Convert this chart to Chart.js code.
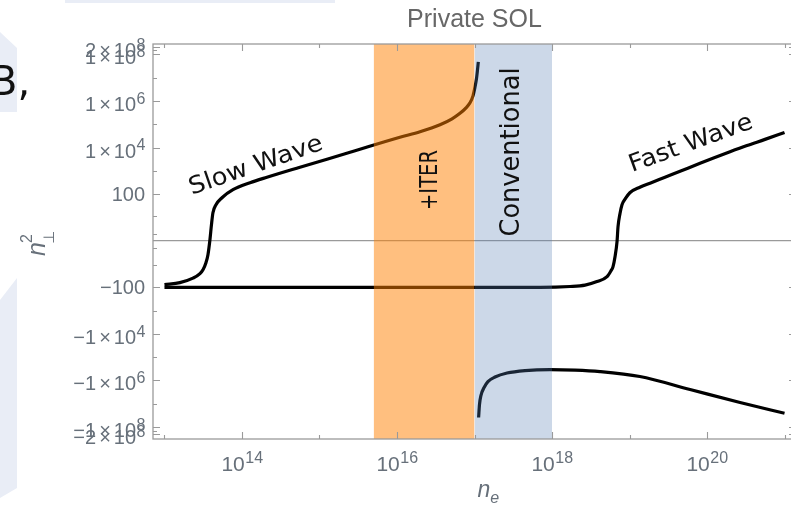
<!DOCTYPE html>
<html>
<head>
<meta charset="utf-8">
<script src="https://cdn.jsdelivr.net/npm/chart.js@4.4.1/dist/chart.umd.min.js"></script>
<style>
 html, body {margin:0; padding:0; background:#ffffff; overflow:hidden;}
 #wrap      {position:relative; width:791px; height:516px; overflow:hidden;}
 canvas     {position:absolute; left:0; top:0;}
</style>
</head>
<body>
<div id="wrap"><canvas id="chart" width="806" height="516"></canvas></div>
<script>

// -----------------------------------------------------------------------------------------------//
//                                          D A T A                                               //
// -----------------------------------------------------------------------------------------------//

// slow wave branch (n_e, n_perp^2)
var slow_ne = [1.0e13, 1.58e13, 2.33e13, 2.87e13, 3.14e13, 3.43e13, 3.64e13, 3.86e13, 4.04e13, 4.22e13,
               4.62e13, 5.52e13, 7.66e13, 1.27e14, 2.10e14, 5.60e14, 2.48e15, 1.09e16, 1.98e16, 3.59e16,
               5.13e16, 6.50e16, 7.77e16, 8.75e16, 9.57e16, 1.01e17, 1.06e17, 1.09e17, 1.12e17];
var slow_n2 = [-76, -62.5, -39.7, -25, -16.6, -7.8, -3.0, 0.1, 3.9, 14.9,
               34, 69, 154, 307, 530, 1430, 6280, 27700, 47600, 95300,
               172000, 296000, 511000, 838000, 1.67e6, 3.69e6, 8.97e6, 1.98e7, 4.8e7];

// fast wave branch
var fast_ne = [1.0e13, 1.0e15, 1.0e17, 7.05e17, 1.71e18, 2.67e18, 3.80e18, 5.13e18, 5.77e18, 6.13e18,
               6.50e18, 6.90e18, 7.11e18, 7.53e18, 8.00e18, 9.02e18, 1.01e19, 1.36e19, 1.84e19, 2.87e19,
               4.49e19, 8.13e19, 1.19e20, 1.98e20, 3.28e20, 5.60e20, 1.0e21];
var fast_n2 = [-100, -100, -100, -100, -92, -80, -56, -34, -18.4, -12,
               -3.9, -0.1, 3.0, 13.4, 34, 69, 114, 197, 293, 530,
               960, 2120, 3470, 6600, 12200, 22500, 44700];

// negative branch past the cutoff
var conv_ne = [1.13e17, 1.16e17, 1.21e17, 1.33e17, 1.49e17, 1.84e17, 2.63e17, 4.48e17, 9.42e17, 1.98e18,
               4.16e18, 1.36e19, 6.04e19, 2.67e20, 1.0e21];
var conv_n2 = [-3.95e7, -1.09e7, -4.49e6, -2.04e6, -1.13e6, -7.21e5, -4.86e5, -3.8e5, -3.44e5, -3.61e5,
               -4.19e5, -6.87e5, -2.48e6, -8.97e6, -2.6e7];

// density bands
var band_iter = [5e15, 1e17];
var band_conv = [1e17, 1e18];

// ticks
var x_ticks        = [1e14, 1e16, 1e18, 1e20];
var x_labels       = ["10^14", "10^16", "10^18", "10^20"];
var x_ticks_minor  = [1e13, 1e15, 1e17, 1e19, 1e21];

var y_ticks        = [2e8, 1e8, 1e6, 1e4, 100, -100, -1e4, -1e6, -1e8, -2e8];
var y_labels       = ["2×10^8", "1×10^8", "1×10^6", "1×10^4", "100", "−100", "−1×10^4", "−1×10^6", "−1×10^8", "−2×10^8"];
var y_ticks_minor  = [1.5e8, 1e7, 1e5, 1000, 10, 1, -1, -10, -1000, -1e5, -1e7, -1.5e8];

var x_range = [Math.pow(10, 12.852), Math.pow(10, 21.148)];
var y_range = [-8.52, 8.45];



// -----------------------------------------------------------------------------------------------//
//                                        H E L P E R S                                           //
// -----------------------------------------------------------------------------------------------//

function Symlog(v)
{
 return Math.sign(v) * Math.log10(1 + Math.abs(v));
}


function Points(xs, ys)
{
 var points = [];
 for(var i = 0; i < xs.length; i++) points.push({x: xs[i], y: Symlog(ys[i])});
 return points;
}


function Band(range)
{
 return [{x: range[0], y: y_range[1]}, {x: range[1], y: y_range[1]}];
}


var TICK_FONT = "'Liberation Sans', Arial, sans-serif";
var TIMES_GAP = 3;

function Draw_Power(ctx, text, x, y, align, size)
{
 var parts = text.split("^");
 var base  = parts[0];
 var sup   = parts[1] || "";
 var ssize = Math.round(size * 0.78);

 // base pieces, with a little room round the times sign
 ctx.font   = size + "px " + TICK_FONT;
 var pieces = base.split("×");
 var widths = [];
 var wb     = 0;
 for(var i = 0; i < pieces.length; i++)
 {
  var w = ctx.measureText(pieces[i]).width;
  widths.push(w);
  wb += w;
 }
 var wt = ctx.measureText("×").width;
 wb    += (pieces.length - 1) * (wt + 2 * TIMES_GAP);

 ctx.font = ssize + "px " + TICK_FONT;
 var ws   = sup ? ctx.measureText(sup).width : 0;

 var total = wb + ws;
 var left  = x;
 if(align == "right")  left = x - total;
 if(align == "center") left = x - total / 2;

 ctx.textAlign    = "left";
 ctx.textBaseline = "alphabetic";
 ctx.font = size + "px " + TICK_FONT;
 var px   = left;
 for(var i = 0; i < pieces.length; i++)
 {
  ctx.fillText(pieces[i], px, y);
  px += widths[i];
  if(i < pieces.length - 1)
  {
   ctx.fillText("×", px + TIMES_GAP, y);
   px += wt + 2 * TIMES_GAP;
  }
 }
 if(sup)
 {
  ctx.font = ssize + "px " + TICK_FONT;
  ctx.fillText(sup, px + 0.5, y - size * 0.36);
 }
}


function Draw_Note(ctx, text, cx, cy, angle, width, size)
{
 ctx.save();
 ctx.translate(cx, cy);
 ctx.rotate(angle * Math.PI / 180);
 ctx.font = size + "px 'DejaVu Sans', sans-serif";
 var w = ctx.measureText(text).width;
 ctx.scale(width / w, 1);
 ctx.textAlign    = "center";
 ctx.textBaseline = "middle";
 ctx.fillStyle    = "#111111";
 ctx.fillText(text, 0, 0);
 ctx.restore();
}



// -----------------------------------------------------------------------------------------------//
//                                        P L U G I N                                             //
// -----------------------------------------------------------------------------------------------//

var Frame_Plugin =
{
 id: "frame",

 beforeDraw: function(chart)
 {
  var ctx = chart.ctx;
  ctx.save();

  // slide decoration on the left edge
  ctx.fillStyle = "#e9edf6";
  ctx.beginPath();
  ctx.moveTo(0, 32); ctx.lineTo(17, 48); ctx.lineTo(17, 112); ctx.lineTo(0, 112);
  ctx.fill();
  ctx.beginPath();
  ctx.moveTo(0, 300); ctx.lineTo(17, 278); ctx.lineTo(17, 488); ctx.lineTo(0, 498);
  ctx.fill();
  ctx.fillRect(65, 0, 270, 3);

  ctx.fillStyle    = "#111111";
  ctx.font         = "40px 'DejaVu Sans', sans-serif";
  ctx.textAlign    = "left";
  ctx.textBaseline = "alphabetic";
  ctx.fillText("B,", -10, 95);
  ctx.restore();
 },

 beforeDatasetsDraw: function(chart)
 {
  var ctx  = chart.ctx;
  var area = chart.chartArea;
  var y0   = chart.scales.y.getPixelForValue(0);
  ctx.save();
  ctx.strokeStyle = "#9a9a9a";
  ctx.lineWidth   = 1.3;
  ctx.beginPath();
  ctx.moveTo(area.left, y0);
  ctx.lineTo(area.right, y0);
  ctx.stroke();
  ctx.restore();
 },

 afterDraw: function(chart)
 {
  var ctx  = chart.ctx;
  var area = chart.chartArea;
  var sx   = chart.scales.x;
  var sy   = chart.scales.y;

  ctx.save();

  // FRAME
  ctx.strokeStyle = "#9a9a9a";
  ctx.lineWidth   = 1.3;
  ctx.strokeRect(area.left, area.top, area.right - area.left, area.bottom - area.top);

  // TICKS
  ctx.beginPath();
  var xt = [];
  for(var v of x_ticks)       xt.push([v, 7]);
  for(var v of x_ticks_minor) xt.push([v, 4]);
  for(var t of xt)
  {
   var px = Math.round(sx.getPixelForValue(t[0])) + 0.5;
   ctx.moveTo(px, area.bottom); ctx.lineTo(px, area.bottom - t[1]);
   ctx.moveTo(px, area.top);    ctx.lineTo(px, area.top + t[1]);
  }
  var yt = [];
  for(var v of y_ticks)       yt.push([v, 7]);
  for(var v of y_ticks_minor) yt.push([v, 4]);
  for(var t of yt)
  {
   var py = Math.round(sy.getPixelForValue(Symlog(t[0]))) + 0.5;
   ctx.moveTo(area.left, py);  ctx.lineTo(area.left + t[1], py);
   ctx.moveTo(area.right, py); ctx.lineTo(area.right - t[1], py);
  }
  ctx.lineWidth = 1.1;
  ctx.stroke();

  // TICK LABELS
  ctx.fillStyle = "#67707a";
  for(var i = 0; i < x_ticks.length; i++)
  {
   var px = sx.getPixelForValue(x_ticks[i]);
   Draw_Power(ctx, x_labels[i], px, area.bottom + 32, "center", 21);
  }
  for(var i = 0; i < y_ticks.length; i++)
  {
   var py  = sy.getPixelForValue(Symlog(y_ticks[i]));
   var sup = y_labels[i].indexOf("^") >= 0;
   Draw_Power(ctx, y_labels[i], 145, py + (sup ? 10 : 7), "right", 20);
  }

  // TITLE
  var cx = (area.left + area.right) / 2;
  ctx.font         = "25px " + TICK_FONT;
  ctx.textAlign    = "center";
  ctx.textBaseline = "alphabetic";
  ctx.fillStyle    = "#676767";
  ctx.fillText("Private SOL", cx, 27);

  // AXIS LABELS
  ctx.fillStyle = "#67707a";
  ctx.textAlign = "left";
  ctx.font      = "italic 23px " + TICK_FONT;
  var wn        = ctx.measureText("n").width;
  ctx.fillText("n", cx + 3, 497);
  ctx.font      = "italic 16px " + TICK_FONT;
  ctx.fillText("e", cx + 3 + wn, 503);

  ctx.save();
  ctx.translate(45, 256);
  ctx.rotate(-Math.PI / 2);
  ctx.font = "italic 25px " + TICK_FONT;
  var wy   = ctx.measureText("n").width;
  ctx.fillText("n", 0, 0);
  ctx.font = "16px " + TICK_FONT;
  ctx.fillText("2", wy - 1, -13);
  ctx.font = "15px 'DejaVu Sans', sans-serif";
  ctx.fillText("⊥", wy - 2, 9);
  ctx.restore();

  // CURVE NOTES
  Draw_Note(ctx, "Slow Wave",    256, 166, -19,   140, 24);
  Draw_Note(ctx, "Fast Wave",    691, 144, -20,   130, 24);
  Draw_Note(ctx, "+ITER",        431, 180, -90,    60, 24);
  Draw_Note(ctx, "Conventional", 512, 152, -90,   169, 26);

  ctx.restore();
 }
};



// -----------------------------------------------------------------------------------------------//
//                                         C H A R T                                              //
// -----------------------------------------------------------------------------------------------//

function Curve(points)
{
 return {
  data:                   points,
  borderColor:            "#000000",
  borderWidth:            3.2,
  pointRadius:            0,
  fill:                   false,
  cubicInterpolationMode: "monotone",
  order:                  2
 };
}


function Shade(points, color)
{
 return {
  data:            points,
  borderWidth:     0,
  borderColor:     "rgba(0,0,0,0)",
  backgroundColor: color,
  pointRadius:     0,
  fill:            "start",
  order:           1
 };
}


var datasets =
[
 Curve(Points(slow_ne, slow_n2)),
 Curve(Points(fast_ne, fast_n2)),
 Curve(Points(conv_ne, conv_n2)),
 Shade(Band(band_iter), "rgba(255,128,0,0.5)"),
 Shade(Band(band_conv), "rgba(85,125,178,0.3)")
];


var config =
{
 type: "line",
 data: {datasets},
 options:
 {
  responsive:  false,
  animation:   false,
  parsing:     false,
  layout:      {padding: {left:153, right:10, top:44, bottom:77}},
  scales:
  {
   x: {type:"logarithmic", display:false, bounds:"data", min:x_range[0], max:x_range[1]},
   y: {type:"linear",      display:false, bounds:"data", min:y_range[0], max:y_range[1]}
  },
  plugins:
  {
   legend:  {display:false},
   tooltip: {enabled:false}
  }
 },
 plugins: [Frame_Plugin]
};

var chart = new Chart(document.getElementById("chart").getContext("2d"), config);

</script>
</body>
</html>
